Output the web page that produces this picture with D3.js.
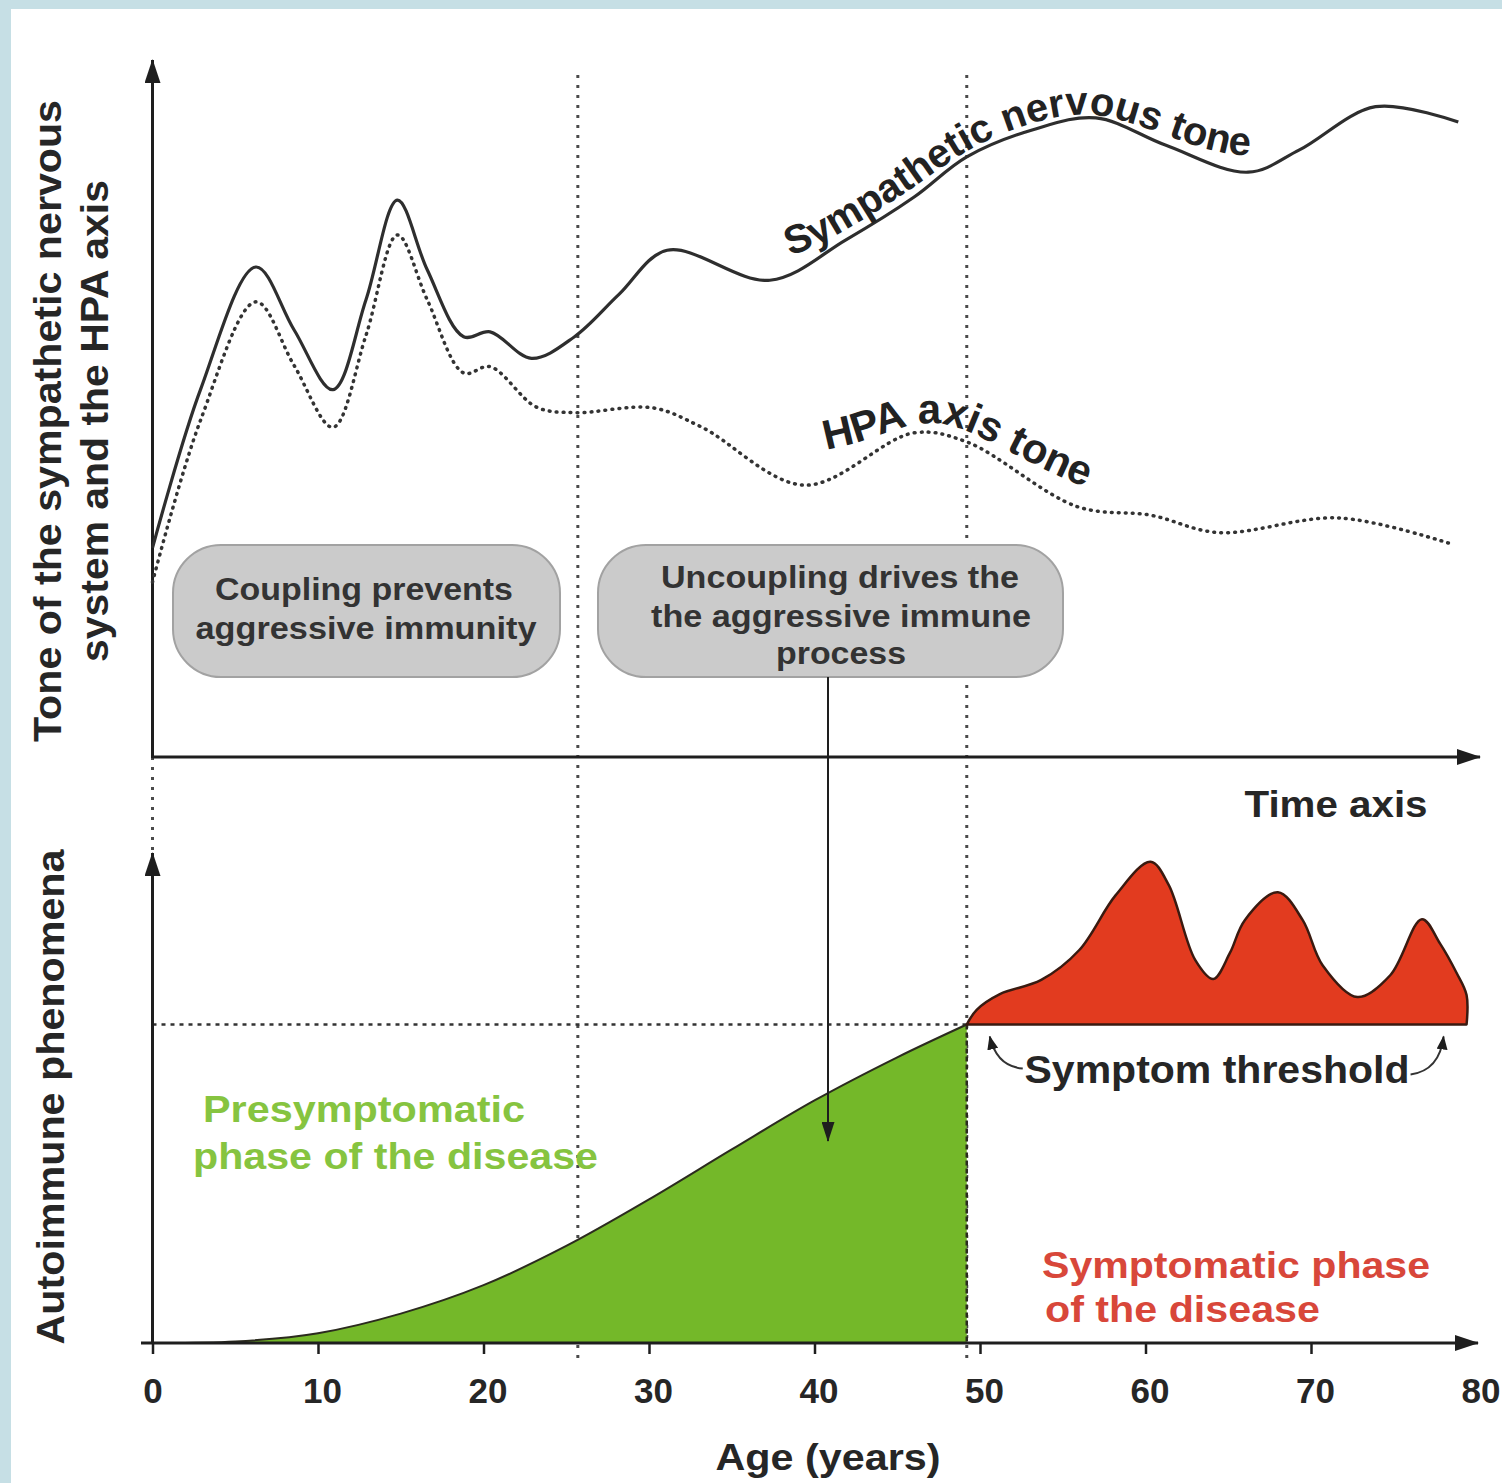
<!DOCTYPE html>
<html>
<head>
<meta charset="utf-8">
<script src="https://cdn.jsdelivr.net/npm/d3@7"></script>
<style>
  html, body { margin: 0; padding: 0; background: #c6dfe5; }
  svg { display: block; }
  text { font-family: "Liberation Sans", Arial, sans-serif; font-weight: bold; }
</style>
</head>
<body>
<svg id="chart" width="1502" height="1483"></svg>
<script>
// time axis (age in years)
const ageTicks = [0, 10, 20, 30, 40, 50, 60, 70, 80];
const phaseBounds = [25.7, 49.2];
const threshold = 65;

// upper panel: tone of the sympathetic nervous system
const sympAges = [0, 2.9, 6.25, 8.55, 10.9, 12.9, 14.8, 16.6, 18.8, 20.4, 22.9, 25.5, 28.2, 31.1, 37.3, 41.9, 46.0, 49.2, 53.2, 57.0, 61.2, 66.2, 69.3, 73.9, 78.9];
const sympTone = [30.0, 52.7, 70.3, 61.3, 52.7, 65.6, 79.9, 69.9, 60.3, 61.0, 57.2, 60.3, 66.4, 72.7, 68.4, 74.2, 80.3, 86.1, 90.0, 91.7, 87.8, 83.9, 87.1, 93.3, 91.1];

// upper panel: HPA axis tone
const hpaAges = [0, 2.9, 6.25, 8.55, 10.9, 12.9, 14.8, 16.6, 18.8, 20.4, 23.2, 25.5, 30.2, 33.2, 39.4, 46.0, 49.2, 55.9, 60.3, 64.4, 71.7, 78.3];
const hpaTone = [25.1, 48.3, 65.3, 56.2, 47.3, 60.5, 74.9, 65.6, 55.1, 56.0, 50.2, 49.4, 50.1, 47.3, 39.0, 46.5, 45.2, 35.9, 34.7, 32.2, 34.3, 30.7];

// lower panel: presymptomatic autoimmune phenomena
const presymAges = [0, 5, 10, 15, 20, 25, 30, 35, 40, 45, 49.2];
const presymLevel = [0, 0.3, 2.0, 6.0, 11.8, 19.8, 29.3, 39.5, 49.5, 58.3, 65.0];

// lower panel: symptomatic phase (above threshold)
const symAges = [49.2, 49.8, 51.2, 53.7, 56.0, 58.2, 60.3, 61.4, 63.0, 64.1, 65.1, 66.0, 68.0, 69.5, 70.7, 72.8, 74.8, 76.7, 77.8, 78.8, 79.4, 79.4];
const symLevel = [65, 68.0, 71.2, 74.1, 80.2, 91.4, 98.2, 93.5, 78.2, 74.3, 79.6, 86.3, 92.0, 86.3, 77.1, 70.6, 75.1, 86.5, 81.5, 75.5, 71.0, 65];

const svg = d3.select("#chart");
const ink = "#1e1e1e";
const smooth = d3.curveCatmullRom.alpha(0.5);

svg.append("rect").attr("x", 11).attr("y", 9).attr("width", 1491).attr("height", 1474).attr("fill", "#fff");

const x = d3.scaleLinear().domain([0, 80]).range([152.5, 1476.5]);
const yTop = d3.scaleLinear().domain([0, 100]).range([757, 60]);
const yBot = d3.scaleLinear().domain([0, 100]).range([1343, 853]);

// arrow heads
const defs = svg.append("defs");
function marker(id, w, l) {
  defs.append("marker")
    .attr("id", id)
    .attr("markerUnits", "userSpaceOnUse")
    .attr("markerWidth", l).attr("markerHeight", w)
    .attr("viewBox", `0 0 ${l} ${w}`)
    .attr("refX", l - 1).attr("refY", w / 2)
    .attr("orient", "auto")
    .append("path")
    .attr("d", `M0,0L${l},${w / 2}L0,${w}Z`)
    .attr("fill", ink);
}
marker("axisArrow", 16, 24);
marker("smallArrow", 13, 20);
marker("tinyArrow", 11, 14);

// dotted phase boundaries
phaseBounds.forEach(b => {
  svg.append("line")
    .attr("x1", x(b)).attr("x2", x(b))
    .attr("y1", 75).attr("y2", 1365)
    .attr("stroke", "#4a4a4a").attr("stroke-width", 3)
    .attr("stroke-dasharray", "3,7");
});
svg.append("line")
  .attr("x1", x(0)).attr("x2", x(0))
  .attr("y1", yTop(0)).attr("y2", yBot(100))
  .attr("stroke", "#4a4a4a").attr("stroke-width", 3)
  .attr("stroke-dasharray", "3,7");

// symptom threshold
svg.append("line")
  .attr("x1", x(0)).attr("x2", x(phaseBounds[1]))
  .attr("y1", yBot(threshold)).attr("y2", yBot(threshold))
  .attr("stroke", "#333").attr("stroke-width", 2.5)
  .attr("stroke-dasharray", "4,5");

// presymptomatic phase (green)
const presym = presymAges.map((a, i) => [a, presymLevel[i]]);
svg.append("path")
  .datum(presym)
  .attr("fill", "#74b829")
  .attr("d", d3.area().x(d => x(d[0])).y0(yBot(0)).y1(d => yBot(d[1])).curve(smooth));
svg.append("path")
  .datum(presym)
  .attr("fill", "none").attr("stroke", "#2b2b1e").attr("stroke-width", 2)
  .attr("d", d3.line().x(d => x(d[0])).y(d => yBot(d[1])).curve(smooth));
svg.append("line")
  .attr("x1", x(phaseBounds[1])).attr("x2", x(phaseBounds[1]))
  .attr("y1", yBot(threshold)).attr("y2", yBot(0))
  .attr("stroke", "#2b2b1e").attr("stroke-width", 2.5)
  .attr("stroke-dasharray", "5,3");

// symptomatic phase (red)
const sym = symAges.map((a, i) => [a, symLevel[i]]);
svg.append("path")
  .datum(sym)
  .attr("fill", "#e23b1f").attr("stroke", "#3a1a10").attr("stroke-width", 2.5)
  .attr("stroke-linejoin", "round")
  .attr("d", d3.area().x(d => x(d[0])).y0(yBot(threshold)).y1(d => yBot(d[1])).curve(smooth));

// axes
function axisLine(x1, y1, x2, y2, m) {
  svg.append("line")
    .attr("x1", x1).attr("y1", y1).attr("x2", x2).attr("y2", y2)
    .attr("stroke", ink).attr("stroke-width", 3)
    .attr("marker-end", `url(#${m})`);
}
axisLine(x(0), yTop(0) + 1, x(0), yTop(100), "axisArrow");
axisLine(x(0), yTop(0), 1480, yTop(0), "axisArrow");
axisLine(x(0), yBot(0), x(0), yBot(100), "axisArrow");
axisLine(141, yBot(0), 1478, yBot(0), "axisArrow");

const xAxis = svg.append("g")
  .attr("transform", `translate(0,${yBot(0) + 1})`)
  .call(d3.axisBottom(x).tickValues(ageTicks).tickSize(10).tickPadding(24).tickFormat(d3.format("d")));
xAxis.select(".domain").remove();
xAxis.selectAll(".tick line").attr("stroke", ink).attr("stroke-width", 2.5)
  .filter(d => d === 80).remove();
xAxis.selectAll(".tick text")
  .attr("font-size", 35).attr("fill", "#262626")
  .attr("font-family", "Liberation Sans, Arial, sans-serif")
  .attr("font-weight", "bold")
  .attr("dx", d => d === 0 ? 0 : 4);

// upper panel curves
const line = d3.line().x(d => x(d[0])).y(d => yTop(d[1])).curve(smooth);
const sympData = sympAges.map((a, i) => [a, sympTone[i]]);
const hpaData = hpaAges.map((a, i) => [a, hpaTone[i]]);
svg.append("path")
  .datum(sympData)
  .attr("fill", "none").attr("stroke", "#2e2e2e").attr("stroke-width", 3.2)
  .attr("d", line);
svg.append("path")
  .datum(hpaData)
  .attr("fill", "none").attr("stroke", "#333").attr("stroke-width", 3.5)
  .attr("stroke-linecap", "round")
  .attr("stroke-dasharray", "0.8,6.2")
  .attr("d", line);

// curved labels sit on a smoothed, lifted copy of each curve
function lengthAtX(node, px) {
  let lo = 0, hi = node.getTotalLength();
  for (let i = 0; i < 40; i++) {
    const mid = (lo + hi) / 2;
    if (node.getPointAtLength(mid).x < px) lo = mid; else hi = mid;
  }
  return lo;
}
function pathLabel(id, data, str, a0, a1, lift) {
  const guide = d3.line().x(d => x(d[0])).y(d => yTop(d[1]) - lift).curve(d3.curveBasis);
  const node = defs.append("path").attr("id", id)
    .attr("d", guide(data.filter(d => d[0] >= a0 - 8 && d[0] <= a1 + 8))).node();
  const s = lengthAtX(node, x(a0)), e = lengthAtX(node, x(a1));
  const t = svg.append("text").attr("font-size", 36).attr("fill", "#222");
  t.append("textPath").attr("href", "#" + id).attr("startOffset", s).text(str);
  const w = t.node().getComputedTextLength();
  t.attr("font-size", 36 * (e - s) / w);
}
pathLabel("sympGuide", sympData, "Sympathetic nervous tone", 38.5, 66.3, 9);
pathLabel("hpaGuide", hpaData, "HPA axis tone", 40.7, 56.4, 16);

// text helper
function label(px, py, str, size, len, color, anchor) {
  return svg.append("text")
    .attr("x", px).attr("y", py)
    .attr("font-size", size).attr("fill", color)
    .attr("text-anchor", anchor || "middle")
    .attr("textLength", len).attr("lengthAdjust", "spacingAndGlyphs")
    .text(str);
}

// phase boxes
svg.append("rect")
  .attr("x", 173).attr("y", 545).attr("width", 387).attr("height", 132)
  .attr("rx", 48).attr("fill", "#cbcbcb").attr("stroke", "#a2a2a2").attr("stroke-width", 2);
svg.append("rect")
  .attr("x", 598).attr("y", 545).attr("width", 465).attr("height", 132)
  .attr("rx", 48).attr("fill", "#cbcbcb").attr("stroke", "#a2a2a2").attr("stroke-width", 2);
label(364, 600, "Coupling prevents", 31, 298, "#333");
label(366, 639, "aggressive immunity", 31, 341, "#333");
label(840, 588, "Uncoupling drives the", 31, 358, "#333");
label(841, 627, "the aggressive immune", 31, 380, "#333");
label(841, 664, "process", 31, 130, "#333");

// arrow from box to the presymptomatic curve
svg.append("line")
  .attr("x1", 828).attr("y1", 677).attr("x2", 828).attr("y2", 1141)
  .attr("stroke", ink).attr("stroke-width", 2)
  .attr("marker-end", "url(#smallArrow)");

// axis titles
label(1336, 817, "Time axis", 37, 183, "#262626");
label(828, 1470, "Age (years)", 37, 225, "#262626");
label(0, 0, "Tone of the sympathetic nervous", 38, 642, "#262626")
  .attr("transform", "translate(61,421) rotate(-90)");
label(0, 0, "system and the HPA axis", 38, 482, "#262626")
  .attr("transform", "translate(108,421) rotate(-90)");
label(0, 0, "Autoimmune phenomena", 38, 495, "#262626")
  .attr("transform", "translate(64,1097) rotate(-90)");

// phase annotations
label(203, 1122, "Presymptomatic", 37, 322, "#86c440", "start");
label(193, 1169, "phase of the disease", 37, 405, "#86c440", "start");
label(1042, 1278, "Symptomatic phase", 36, 388, "#d8473a", "start");
label(1045, 1322, "of the disease", 36, 275, "#d8473a", "start");
label(1217, 1083, "Symptom threshold", 38, 385, "#262626");

// curved pointers to the threshold ends
const ty = yBot(threshold);
const xl = x(phaseBounds[1]), xr = x(symAges[symAges.length - 1]);
svg.append("path")
  .attr("d", `M${xl + 56},${ty + 44} Q${xl + 30},${ty + 42} ${xl + 23},${ty + 12}`)
  .attr("fill", "none").attr("stroke", "#333").attr("stroke-width", 2)
  .attr("marker-end", "url(#tinyArrow)");
svg.append("path")
  .attr("d", `M${xr - 56},${ty + 50} Q${xr - 27},${ty + 46} ${xr - 23},${ty + 12}`)
  .attr("fill", "none").attr("stroke", "#333").attr("stroke-width", 2)
  .attr("marker-end", "url(#tinyArrow)");
</script>
</body>
</html>
